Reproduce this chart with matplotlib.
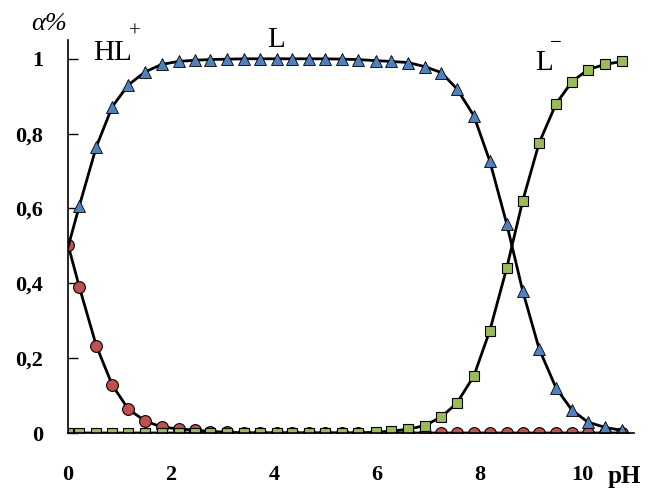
import matplotlib
matplotlib.use('Agg')
import matplotlib.pyplot as plt

#%% данные
ph = [0, 0.22, 0.55, 0.86, 1.17, 1.50, 1.82, 2.15, 2.46, 2.77, 3.10, 3.43,
      3.74, 4.07, 4.36, 4.69, 5.00, 5.33, 5.64, 5.99, 6.28, 6.61, 6.94, 7.26,
      7.56, 7.89, 8.20, 8.53, 8.84, 9.16, 9.49, 9.80, 10.11, 10.44, 10.77]

# HL+ (кружки)
hl_plus = [0.503, 0.39, 0.233, 0.128, 0.064, 0.032, 0.016, 0.011, 0.008, 0.004,
           0.002, 0, 0, 0, 0, 0, 0, 0, 0, 0, 0, 0, 0, 0, 0, 0, 0, 0, 0, 0, 0,
           0, 0, 0, 0]

# L (треугольники), первая точка только для линии
l_neutral = [0.497, 0.607, 0.765, 0.872, 0.930, 0.965, 0.985, 0.993, 0.996,
             0.998, 0.999, 1, 1, 1, 1, 1, 1, 0.999, 0.998, 0.995, 0.993, 0.99,
             0.979, 0.963, 0.920, 0.848, 0.727, 0.559, 0.380, 0.225, 0.120,
             0.061, 0.029, 0.015, 0.007]

# L- (квадраты)
l_minus = [0, 0, 0, 0, 0, 0, 0, 0, 0, 0, 0, 0, 0, 0, 0, 0, 0, 0, 0, 0.002,
           0.005, 0.01, 0.02, 0.043, 0.08, 0.152, 0.273, 0.441, 0.620, 0.775,
           0.880, 0.939, 0.971, 0.985, 0.993]

yticks = [0, 0.2, 0.4, 0.6, 0.8, 1]
ytick_labels = ['0', '0,2', '0,4', '0,6', '0,8', '1']
xticks = [0, 2, 4, 6, 8, 10]

#%% рисунок
plt.rcParams['font.family'] = ['Liberation Serif', 'DejaVu Serif']

fig = plt.figure(figsize=(6.48, 4.93), dpi=100)
ax = fig.add_axes([0.105, 0.1217, 0.873, 0.797])

ax.plot(ph, hl_plus, color='black', lw=2.0, marker='o', ms=8.5,
        mfc='#C0504D', mec='black', mew=0.8)
ax.plot(ph, l_minus, color='black', lw=2.0, marker='s', ms=7.5,
        mfc='#9BBB59', mec='black', mew=0.8)
ax.plot(ph, l_neutral, color='black', lw=2.0, marker='^', ms=8.5,
        mfc='#4F81BD', mec='black', mew=0.6, markevery=range(1, len(ph)))

ax.set_xlim(0, 11)
ax.set_ylim(0, 1.05)

ax.spines['top'].set_visible(False)
ax.spines['right'].set_visible(False)
ax.spines['left'].set_linewidth(1.2)
ax.spines['bottom'].set_linewidth(1.2)

ax.set_yticks(yticks)
ax.set_yticklabels(ytick_labels, fontsize=16, fontweight='bold')
ax.tick_params(axis='y', direction='in', length=7, width=1, pad=18)
ax.set_xticks(xticks)
ax.set_xticklabels([str(t) for t in xticks], fontsize=16, fontweight='bold')
ax.tick_params(axis='x', length=0, pad=23)

# подписи кривых
ax.text(0.86, 1.016, 'HL', fontsize=21, ha='center', va='center')
ax.text(1.30, 1.072, '+', fontsize=15, ha='center', va='center')
ax.text(4.05, 1.051, 'L', fontsize=21, ha='center', va='center')
ax.text(9.25, 0.989, 'L', fontsize=21, ha='center', va='center')
ax.text(9.49, 1.040, '\u2212', fontsize=15, ha='center', va='center')

fig.text(0.0756, 0.951, '\u03b1%', fontsize=19, style='italic',
         ha='center', va='center')
fig.text(0.963, 0.034, 'pH', fontsize=18, fontweight='bold',
         ha='center', va='center')

plt.savefig('out.png', dpi=100)
plt.close()
